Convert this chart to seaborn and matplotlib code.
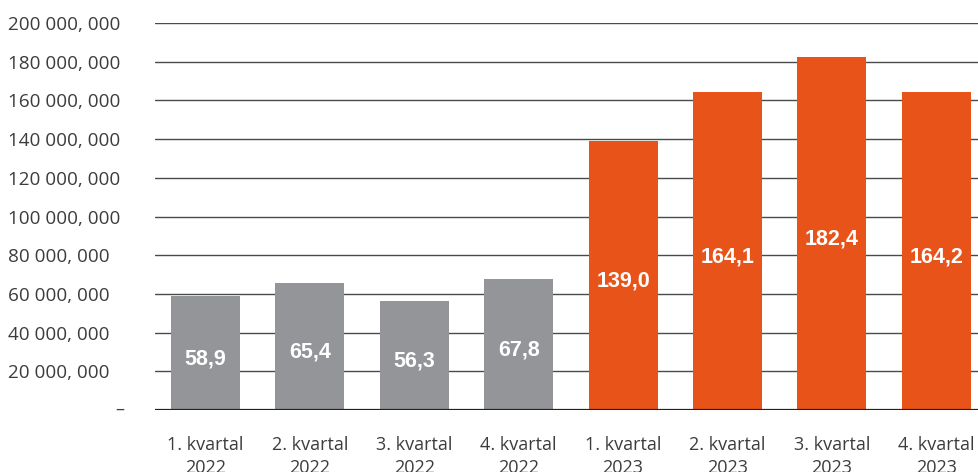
import matplotlib
matplotlib.use("Agg")
import matplotlib.pyplot as plt
import matplotlib.transforms as mtransforms
import seaborn as sns
import pandas as pd

# Quarterly values, in millions
quarters = ["1. kvartal\n2022", "2. kvartal\n2022", "3. kvartal\n2022", "4. kvartal\n2022",
            "1. kvartal\n2023", "2. kvartal\n2023", "3. kvartal\n2023", "4. kvartal\n2023"]
years = ["2022", "2022", "2022", "2022", "2023", "2023", "2023", "2023"]
values_mill = [58.9, 65.4, 56.3, 67.8, 139.0, 164.1, 182.4, 164.2]
y_ticks_mill = [0, 20, 40, 60, 80, 100, 120, 140, 160, 180, 200]

year_colors = {"2022": "#939598", "2023": "#E8531A"}
text_color = "#3c3c3c"

df = pd.DataFrame({"kvartal": quarters, "aar": years,
                   "verdi": [v * 1e6 for v in values_mill]})

sns.set_theme(style="white")
plt.rcParams["font.family"] = ["Open Sans", "DejaVu Sans"]

fig = plt.figure(figsize=(9.79, 4.72), dpi=100)
W, H = 979, 472
ax = fig.add_axes([155 / W, (H - 410) / H, (W - 155) / W, 387 / H])

sns.barplot(data=df, x="kvartal", y="verdi", hue="aar", palette=year_colors,
            dodge=False, width=0.66, saturation=1, legend=False, ax=ax,
            zorder=3, linewidth=0)

ax.set_xlim(-0.484, 7.41)
ax.set_ylim(0, 200e6)

# horizontal grid lines
for t in y_ticks_mill[1:]:
    ax.axhline(t * 1e6, color="#4a4a4a", lw=1.0, zorder=1)
ax.axhline(0, color="#222222", lw=1.6, zorder=4)

for s in ax.spines.values():
    s.set_visible(False)


def fmt_amount(mill):
    n = int(round(mill * 1e6))
    return f"{n // 1_000_000} {(n // 1000) % 1000:03d}, {n % 1000:03d}"


ax.set_yticks([t * 1e6 for t in y_ticks_mill])
ax.set_yticklabels(["" if t == 0 else fmt_amount(t) for t in y_ticks_mill])
ax.tick_params(axis="y", length=0, pad=(155 - 8) * 0.72, labelsize=13.6,
               labelcolor=text_color)
for lab in ax.get_yticklabels():
    lab.set_horizontalalignment("left")

# dash marking the zero line
trans = mtransforms.blended_transform_factory(fig.transFigure, ax.transData)
ax.text(120 / W, 0, "–", transform=trans, ha="center", va="center",
        fontsize=13, color=text_color)

ax.tick_params(axis="x", length=0, pad=19, labelsize=13, labelcolor=text_color)
for lab in ax.get_xticklabels():
    lab.set_linespacing(1.3)
ax.set_xlabel("")
ax.set_ylabel("")

# value labels inside the bars
for i, v in enumerate(values_mill):
    ax.annotate(f"{v:.1f}".replace(".", ","), xy=(i, v * 1e6 / 2),
                xytext=(0, -4), textcoords="offset points",
                ha="center", va="center", color="white", fontsize=15.5,
                fontweight="bold", family=["Liberation Sans", "DejaVu Sans"],
                zorder=5)

fig.savefig("out.png", dpi=100)
